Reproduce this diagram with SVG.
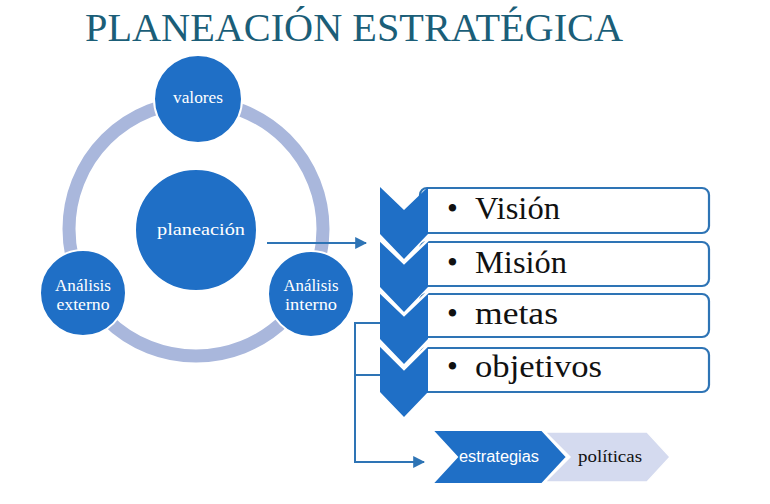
<svg xmlns="http://www.w3.org/2000/svg" width="770" height="504" viewBox="0 0 770 504">
<defs>
<style>
.node{fill:#1f6fc6;stroke:#ffffff;stroke-width:2}
.nt{font-family:"Liberation Serif",serif;font-size:16px;fill:#ffffff;text-anchor:middle}
.box{fill:#ffffff;stroke:#2e74b5;stroke-width:2.2}
.bt{font-family:"Liberation Serif",serif;font-size:31px;fill:#111111}
.chev{fill:#1f6fc6}
.vline{fill:none;stroke:#ffffff;stroke-width:2.5}
.conn{fill:none;stroke:#2e74b5;stroke-width:2}
</style>
<marker id="ah" viewBox="0 0 10 10" refX="9" refY="5" markerWidth="6" markerHeight="6" orient="auto" markerUnits="strokeWidth">
<path d="M0,0 L10,5 L0,10 z" fill="#2e74b5"/>
</marker>
</defs>
<rect width="770" height="504" fill="#ffffff"/>
<text x="85" y="41" font-family="Liberation Serif, serif" font-size="41" fill="#1b5e78" textLength="538" lengthAdjust="spacingAndGlyphs">PLANEACIÓN ESTRATÉGICA</text>

<g id="ring">
<circle cx="196" cy="229" r="127" fill="none" stroke="#a9b7dc" stroke-width="13"/>
</g>

<g id="valores">
<circle class="node" cx="198" cy="99" r="44"/>
<text class="nt" x="198" y="103" textLength="50" lengthAdjust="spacingAndGlyphs">valores</text>
</g>
<g id="planeacion">
<circle class="node" cx="196" cy="230" r="61"/>
<text class="nt" x="201" y="235" textLength="88" lengthAdjust="spacingAndGlyphs">planeación</text>
</g>
<g id="analisis-externo">
<circle class="node" cx="83" cy="293" r="43"/>
<text class="nt" x="83" y="291" textLength="56" lengthAdjust="spacingAndGlyphs">Análisis</text>
<text class="nt" x="83" y="310" textLength="53" lengthAdjust="spacingAndGlyphs">externo</text>
</g>
<g id="analisis-interno">
<circle class="node" cx="311" cy="294" r="43"/>
<text class="nt" x="311" y="291" textLength="55" lengthAdjust="spacingAndGlyphs">Análisis</text>
<text class="nt" x="311" y="310" textLength="52" lengthAdjust="spacingAndGlyphs">interno</text>
</g>

<g id="boxes">
<g id="vision">
<rect class="box" x="420" y="188" width="289" height="45" rx="7"/>
<text class="bt" x="447" y="219">•</text>
<text class="bt" x="475" y="219" textLength="85" lengthAdjust="spacingAndGlyphs">Visión</text>
</g>
<g id="mision">
<rect class="box" x="420" y="242" width="289" height="44" rx="7"/>
<text class="bt" x="447" y="273">•</text>
<text class="bt" x="475" y="273" textLength="92" lengthAdjust="spacingAndGlyphs">Misión</text>
</g>
<g id="metas">
<rect class="box" x="420" y="294" width="289" height="43" rx="7"/>
<text class="bt" x="447" y="324">•</text>
<text class="bt" x="475" y="324" textLength="83" lengthAdjust="spacingAndGlyphs">metas</text>
</g>
<g id="objetivos">
<rect class="box" x="420" y="348" width="289" height="44" rx="7"/>
<text class="bt" x="447" y="377">•</text>
<text class="bt" x="475" y="377" textLength="127" lengthAdjust="spacingAndGlyphs">objetivos</text>
</g>
</g>

<g id="chevrons">
<polygon class="chev" points="380,187 404,210 428,187 428,234 404,259 380,234"/>
<polygon class="chev" points="380,240 404,263 428,240 428,287 404,312 380,287"/>
<polyline class="vline" points="380,240 404,263 428,240"/>
<polygon class="chev" points="380,292 404,315 428,292 428,339 404,364 380,339"/>
<polyline class="vline" points="380,292 404,315 428,292"/>
<polygon class="chev" points="380,345 404,369 428,345 428,392 404,417 380,392"/>
<polyline class="vline" points="380,345 404,369 428,345"/>
</g>

<g id="politicas">
<polygon points="545,432 647,432 670,457 647,482 545,482 570,457" fill="#d4daef" stroke="#ffffff" stroke-width="1.5"/>
<text x="610" y="462" font-family="Liberation Serif, serif" font-size="17" fill="#111111" text-anchor="middle" textLength="64" lengthAdjust="spacingAndGlyphs">políticas</text>
</g>
<g id="estrategias">
<polygon points="432,430 542,430 567,457 542,484 432,484 457,457" fill="#1f6fc6" stroke="#ffffff" stroke-width="2"/>
<text x="499" y="462" font-family="Liberation Sans, sans-serif" font-size="16" fill="#ffffff" text-anchor="middle" textLength="80" lengthAdjust="spacingAndGlyphs">estrategias</text>
</g>

<g id="connectors">
<line class="conn" x1="267" y1="243" x2="366" y2="243" marker-end="url(#ah)"/>
<polyline class="conn" points="380,323 355,323 355,462 424,462" marker-end="url(#ah)"/>
<line class="conn" x1="355" y1="375" x2="380" y2="375"/>
</g>
</svg>
